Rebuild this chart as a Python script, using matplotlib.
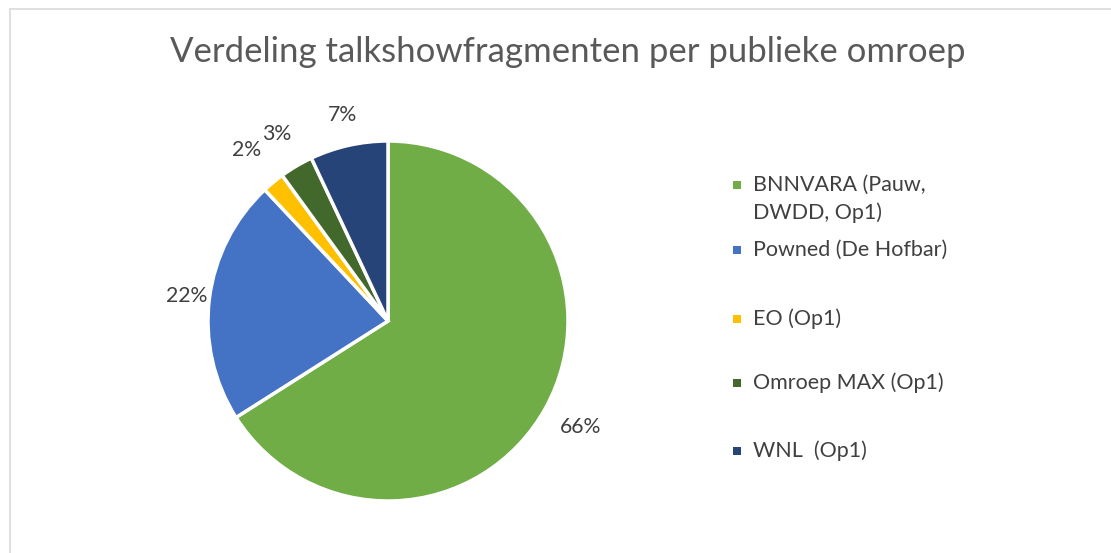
import matplotlib
matplotlib.use("Agg")
import matplotlib.pyplot as plt
import numpy as np
from matplotlib.patches import Rectangle

categories = ["BNNVARA (Pauw,\nDWDD, Op1)", "Powned (De Hofbar)", "EO (Op1)",
              "Omroep MAX (Op1)", "WNL  (Op1)"]
values = [66, 22, 2, 3, 7]
colors = ["#70AD47", "#4472C4", "#FFC000", "#43682B", "#264478"]
label_dist = [1.22, 1.13, 1.23, 1.21, 1.17]
title = "Verdeling talkshowfragmenten per publieke omroep"

W, H = 1111, 553
fig = plt.figure(figsize=(W / 100, H / 100), dpi=100)
fig.patch.set_facecolor("white")
plt.rcParams['font.family'] = ['Lato', 'DejaVu Sans']

# chart border
fig.add_artist(Rectangle((10 / W, -0.05), 1.2, 1 - 9 / H + 0.05, transform=fig.transFigure,
                         fill=False, edgecolor="#D9D9D9", linewidth=1.2))

cx, cy, r = 388, 321, 180
ax = fig.add_axes([(cx - r) / W, 1 - (cy + r) / H, 2 * r / W, 2 * r / H])
wedges, _ = ax.pie(values, colors=colors, startangle=90, counterclock=False,
                   wedgeprops=dict(edgecolor="white", linewidth=2.5))
ax.set_xlim(-1, 1)
ax.set_ylim(-1, 1)
ax.set_aspect("equal")
ax.axis("off")

for w, v, d in zip(wedges, values, label_dist):
    ang = np.deg2rad((w.theta1 + w.theta2) / 2)
    ax.text(d * np.cos(ang), d * np.sin(ang), f"{v}%", ha="center", va="center",
            fontsize=15.3, color="#404040")

fig.text(568 / W, 1 - 52 / H, title, ha="center", va="center", fontsize=25, color="#595959")

# legend
leg_y = [185, 250, 319, 383, 451]
line_gap = 28
for lab, col, y in zip(categories, colors, leg_y):
    fig.add_artist(Rectangle(((737 - 4) / W, 1 - (y + 4) / H), 8 / W, 8 / H,
                             transform=fig.transFigure, facecolor=col, edgecolor="none"))
    for i, line in enumerate(lab.split("\n")):
        fig.text(753 / W, 1 - (y + i * line_gap) / H, line, ha="left", va="center",
                 fontsize=15.5, color="#404040")

fig.savefig("out.png", dpi=100)
